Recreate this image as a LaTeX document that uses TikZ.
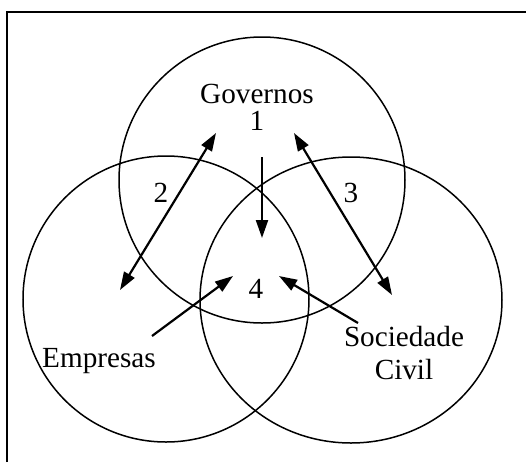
\documentclass[tikz,border=0pt]{standalone}
\usepackage{fontspec}
\setmainfont{Liberation Serif}
\usetikzlibrary{arrows.meta}

\tikzset{
  lbl/.style={font=\fontsize{14.6}{16.7}\selectfont, inner sep=0pt},
  ring/.style={line width=0.75pt},
  link/.style={line width=1.1pt, -{Triangle[length=9pt,width=6pt]}},
  twoway/.style={line width=1.1pt, {Triangle[length=9pt,width=6pt]}-{Triangle[length=9pt,width=6pt]}}
}

\begin{document}
\begin{tikzpicture}[x=0.5pt,y=-0.5pt]
\useasboundingbox (0,0) rectangle (526,462);
% frame (open at the bottom and right)
\draw[line width=0.9pt] (7,462) -- (7,12) -- (526,12);

% the three sets
\draw[ring] (262,180) circle[radius=143];
\draw[ring] (166,299) circle[radius=143];
\draw[ring] (351,300) ellipse[x radius=151, y radius=143];

% labels
\node[lbl,anchor=base] (gov) at (257,103) {Governos};
\node[lbl,anchor=base] (one) at (257,130) {1};
\node[lbl,anchor=base] (two) at (161,202) {2};
\node[lbl,anchor=base] (three) at (351,202) {3};
\node[lbl,anchor=base] (four) at (256,298) {4};
\node[lbl,anchor=base] (emp) at (99,367) {Empresas};
\node[lbl,align=center] (soc) at (404,353) {Sociedade\\Civil};

% arrow ends
\coordinate (e2a) at (120,290);
\coordinate (e2b) at (216,133);
\coordinate (e3a) at (294,133);
\coordinate (e3b) at (392,295);
\coordinate (g1) at (262,157);
\coordinate (g4) at (262,238);
\coordinate (m1) at (152,336);
\coordinate (m4) at (233,276);
\coordinate (s1) at (358,323);
\coordinate (s4) at (279,276);

\draw[twoway] (e2a) -- (e2b);
\draw[twoway] (e3a) -- (e3b);
\draw[link] (g1) -- (g4);
\draw[link] (m1) -- (m4);
\draw[link] (s1) -- (s4);
\end{tikzpicture}
\end{document}
